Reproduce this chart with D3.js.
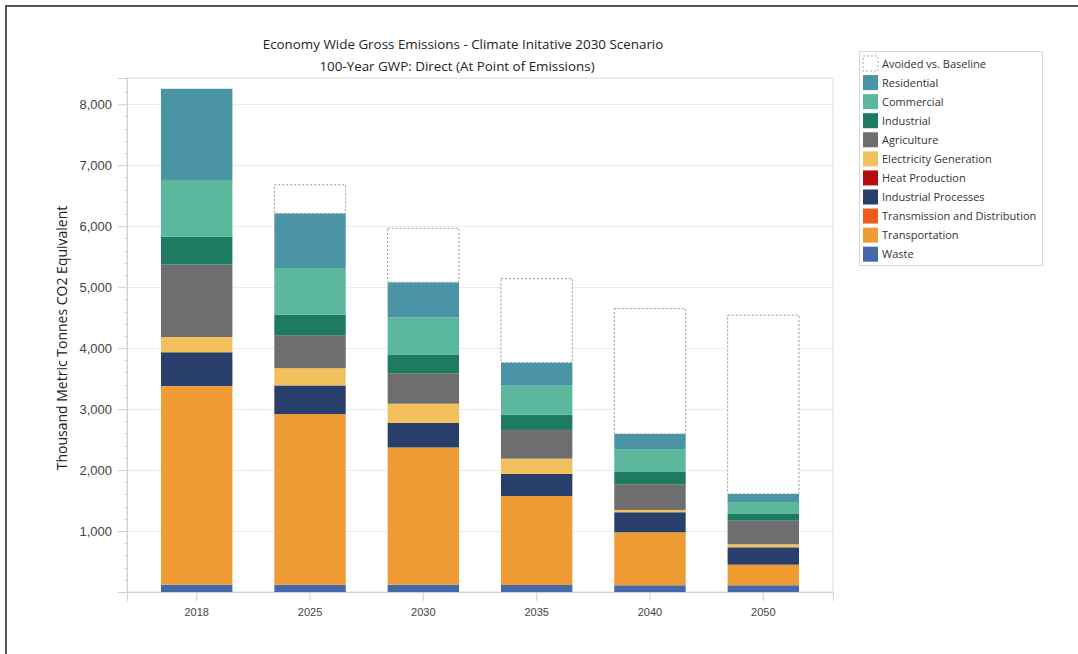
<!DOCTYPE html>
<html>
<head>
<meta charset="utf-8">
<script src="https://cdn.jsdelivr.net/npm/d3@7"></script>
<style>
  body { margin: 0; background: #fff; }
  svg { display: block; font-family: "Open Sans", "Noto Sans", sans-serif; }
</style>
</head>
<body>
<svg id="chart" width="1078" height="654"></svg>
<script>
// data (thousand metric tonnes CO2e)
const years = ["2018", "2025", "2030", "2035", "2040", "2050"];

const waste          = [121, 118, 120, 115, 110, 110];
const transportation = [3250, 2800, 2250, 1460, 870, 338];
const transmission   = [8, 0, 0, 0, 0, 0];
const indProcesses   = [553, 470, 403, 361, 328, 285];
const heatProduction = [0, 0, 0, 0, 0, 0];
const electricity    = [249, 283, 315, 251, 38, 49];
const agriculture    = [1189, 541, 499, 471, 421, 388];
const industrial     = [460, 338, 310, 251, 202, 110];
const commercial     = [928, 763, 609, 476, 373, 196];
const residential    = [1495, 897, 574, 377, 251, 132];
const avoided        = [0, 469, 886, 1378, 2056, 2931];

const yTicks = [1000, 2000, 3000, 4000, 5000, 6000, 7000, 8000];

// stack order bottom -> top
const seriesNames = ["Waste", "Transportation", "Transmission and Distribution",
  "Industrial Processes", "Heat Production", "Electricity Generation",
  "Agriculture", "Industrial", "Commercial", "Residential", "Avoided vs. Baseline"];
const seriesValues = [waste, transportation, transmission, indProcesses, heatProduction,
  electricity, agriculture, industrial, commercial, residential, avoided];
const seriesColors = ["#4568a8", "#f09c35", "#f25a1a", "#283f6c", "#b30c0c",
  "#f2c05c", "#6e6e6e", "#1e7a60", "#5cb89d", "#4a94a6", "#ffffff"];

const table = years.map((yr, i) => {
  const row = { year: yr };
  seriesNames.forEach((n, k) => row[n] = seriesValues[k][i]);
  return row;
});

const svg = d3.select("#chart");

// outer frame (clipped at right/bottom as in the screenshot)
svg.append("rect")
  .attr("x", 6).attr("y", 6).attr("width", 1100).attr("height", 700)
  .attr("fill", "none").attr("stroke", "#555").attr("stroke-width", 2);

const plot = { left: 127, right: 833, top: 78, bottom: 592 };

const x = d3.scaleBand()
  .domain(years)
  .range([plot.left, plot.right])
  .paddingInner(0.37)
  .paddingOuter(0.3);

const y = d3.scaleLinear()
  .domain([0, 8430])
  .range([plot.bottom, plot.top]);

// plot frame
svg.append("rect")
  .attr("x", plot.left).attr("y", plot.top)
  .attr("width", plot.right - plot.left).attr("height", plot.bottom - plot.top)
  .attr("fill", "none").attr("stroke", "#dcdcdc").attr("stroke-width", 1);

// gridlines
svg.append("g")
  .selectAll("line")
  .data(yTicks)
  .enter()
  .append("line")
  .attr("x1", plot.left).attr("x2", plot.right)
  .attr("y1", d => Math.round(y(d)) + 0.5)
  .attr("y2", d => Math.round(y(d)) + 0.5)
  .attr("stroke", "#ebebeb");

// minor ticks on the y axis
svg.append("g")
  .selectAll("line")
  .data(d3.range(200, 8400, 200).filter(v => v % 1000 !== 0))
  .enter()
  .append("line")
  .attr("x1", plot.left - 3).attr("x2", plot.left)
  .attr("y1", d => Math.round(y(d)) + 0.5)
  .attr("y2", d => Math.round(y(d)) + 0.5)
  .attr("stroke", "#d8d8d8");

// y axis
const yAxis = svg.append("g")
  .attr("transform", `translate(${plot.left},0)`)
  .call(d3.axisLeft(y).tickValues(yTicks).tickFormat(d3.format(",")).tickSize(9).tickPadding(6));
yAxis.select(".domain").attr("stroke", "#d0d0d0");
yAxis.selectAll(".tick line").attr("stroke", "#d0d0d0");
yAxis.selectAll(".tick text")
  .attr("fill", "#444").style("font-size", "13px");

// x axis
const xAxis = svg.append("g")
  .attr("transform", `translate(0,${plot.bottom})`)
  .call(d3.axisBottom(x).tickSize(9).tickPadding(7));
xAxis.select(".domain").attr("stroke", "#d0d0d0");
xAxis.selectAll(".tick line").attr("stroke", "#d0d0d0");
xAxis.selectAll(".tick text")
  .attr("fill", "#444").style("font-size", "11px");

// stacked bars
const stack = d3.stack().keys(seriesNames);
const layers = stack(table);

const layerG = svg.append("g")
  .selectAll("g")
  .data(layers)
  .enter()
  .append("g")
  .attr("fill", (d, i) => seriesColors[i]);

layerG.selectAll("rect")
  .data(d => d.map(v => Object.assign(v, { key: d.key })))
  .enter()
  .append("rect")
  .filter(d => d[1] - d[0] > 0)
  .attr("x", d => x(d.data.year))
  .attr("width", x.bandwidth())
  .attr("y", d => y(d[1]))
  .attr("height", d => y(d[0]) - y(d[1]))
  .attr("stroke", d => d.key === "Avoided vs. Baseline" ? "#999" : "none")
  .attr("stroke-dasharray", "2,2")
  .attr("stroke-width", 1);

// titles
svg.append("text")
  .attr("x", 463).attr("y", 49)
  .attr("text-anchor", "middle")
  .attr("fill", "#222").style("font-size", "13.4px")
  .text("Economy Wide Gross Emissions - Climate Initative 2030 Scenario");
svg.append("text")
  .attr("x", 457).attr("y", 71)
  .attr("text-anchor", "middle")
  .attr("fill", "#222").style("font-size", "13.4px")
  .text("100-Year GWP: Direct (At Point of Emissions)");

// y axis title
svg.append("text")
  .attr("transform", "translate(67,338) rotate(-90)")
  .attr("text-anchor", "middle")
  .attr("fill", "#222").style("font-size", "14px")
  .text("Thousand Metric Tonnes CO2 Equivalent");

// legend
const legend = svg.append("g");
legend.append("rect")
  .attr("x", 859.5).attr("y", 51.5).attr("width", 183).attr("height", 214)
  .attr("fill", "#fff").attr("stroke", "#d6d6d6");

const legendItems = seriesNames.map((n, i) => ({ name: n, color: seriesColors[i] })).reverse();

const li = legend.selectAll("g.item")
  .data(legendItems)
  .enter()
  .append("g")
  .attr("class", "item")
  .attr("transform", (d, i) => `translate(863,${56 + i * 19.07})`);

li.append("rect")
  .attr("width", 15).attr("height", 15)
  .attr("fill", d => d.color)
  .attr("stroke", d => d.name === "Avoided vs. Baseline" ? "#aaa" : "none")
  .attr("stroke-dasharray", "2,2");

li.append("text")
  .attr("x", 19).attr("y", 11.5)
  .attr("fill", "#333").style("font-size", "11px")
  .text(d => d.name);
</script>
</body>
</html>
